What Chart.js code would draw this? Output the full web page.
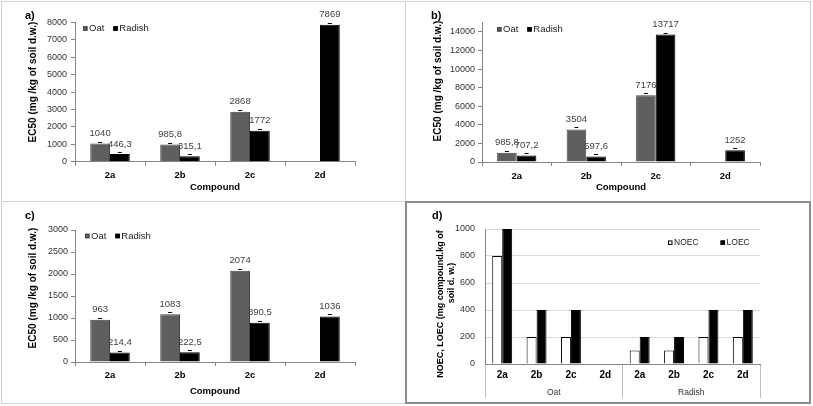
<!DOCTYPE html>
<html><head><meta charset="utf-8">
<script src="https://cdn.jsdelivr.net/npm/chart.js@4.4.1/dist/chart.umd.min.js"></script>
<style>
html,body{margin:0;padding:0;background:#fff;}
#wrap{position:relative;width:813px;height:406px;overflow:hidden;font-family:"Liberation Sans",Arial,sans-serif;background:#fff;}
.frame{position:absolute;box-sizing:border-box;border:1px solid #d0d0d0;}
canvas{position:absolute;}
.tag{position:absolute;font:bold 11px/13px "Liberation Sans",Arial,sans-serif;color:#000;}
.yt{position:absolute;font-family:"Liberation Sans",Arial,sans-serif;font-weight:bold;color:#000;white-space:nowrap;text-align:center;transform:translate(-50%,-50%) rotate(-90deg);}
</style></head>
<body>
<div id="wrap">
  <div class="frame" style="left:1px;top:1px;width:405px;height:201px;"></div>
  <div class="frame" style="left:405px;top:1px;width:406px;height:201px;"></div>
  <div class="frame" style="left:1px;top:201px;width:405px;height:203px;"></div>
  <div class="frame" style="left:405px;top:201px;width:406px;height:203px;border:2px solid #8c8c8c;"></div>

  <canvas id="ca" width="404" height="200" style="left:1px;top:1px;"></canvas>
  <canvas id="cb" width="404" height="200" style="left:406px;top:1px;"></canvas>
  <canvas id="cc" width="404" height="201" style="left:1px;top:202px;"></canvas>
  <canvas id="cd" width="403" height="200" style="left:406px;top:202px;"></canvas>

  <div class="tag" style="left:25px;top:9px;">a)</div>
  <div class="tag" style="left:431px;top:9px;">b)</div>
  <div class="tag" style="left:25px;top:209px;">c)</div>
  <div class="tag" style="left:432px;top:209px;">d)</div>

  <div class="yt" style="left:32px;top:82px;font-size:10px;">EC50 (mg /kg of soil d.w.)</div>
  <div class="yt" style="left:437px;top:81px;font-size:10px;">EC50 (mg /kg of soil d.w.)</div>
  <div class="yt" style="left:32px;top:288px;font-size:10px;">EC50 (mg /kg of soil d.w.)</div>
  <div class="yt" style="left:440px;top:304px;font-size:9px;">NOEC, LOEC (mg compound.kg of</div>
  <div class="yt" style="left:451px;top:283px;font-size:9px;">soil d. w.)</div>
</div>
<script>
// ---------- data ----------
const compounds = ['2a', '2b', '2c', '2d'];
const seriesNames = ['Oat', 'Radish'];
const oatA = [1040, 985.8, 2868, null];
const radishA = [446.3, 315.1, 1772, 7869];
const oatB = [985.8, 3504, 7176, null];
const radishB = [707.2, 597.6, 13717, 1252];
const oatC = [963, 1083, 2074, null];
const radishC = [214.4, 222.5, 890.5, 1036];
const yTicksA = [0, 1000, 2000, 3000, 4000, 5000, 6000, 7000, 8000];
const yTicksB = [0, 2000, 4000, 6000, 8000, 10000, 12000, 14000];
const yTicksC = [0, 500, 1000, 1500, 2000, 2500, 3000];
const yMaxA = 8000, yMaxB = 15000, yMaxC = 3000;

const dCompounds = ['2a', '2b', '2c', '2d', '2a', '2b', '2c', '2d'];
const dGroups = ['Oat', 'Radish'];
const dSeriesNames = ['NOEC', 'LOEC'];
const noec = [800, 200, 200, null, 100, 100, 200, 200];
const loec = [1000, 400, 400, null, 200, 200, 400, 400];
const yTicksD = [0, 200, 400, 600, 800, 1000];
const yMaxD = 1000;

// ---------- helpers ----------
const FONT = '"Liberation Sans", Arial, sans-serif';
const AXIS = '#868686';

const valueLabels = {
  id: 'valueLabels',
  afterDatasetsDraw(chart, args, opts) {
    if (!opts.show) return;
    const ctx = chart.ctx;
    ctx.save();
    ctx.font = '9.5px ' + FONT;
    ctx.textAlign = 'center';
    ctx.textBaseline = 'middle';
    chart.data.datasets.forEach((ds, i) => {
      chart.getDatasetMeta(i).data.forEach((bar, j) => {
        const v = ds.data[j];
        if (v === null || v === undefined) return;
        const yTop = Math.round(bar.y);
        ctx.strokeStyle = '#000';
        ctx.lineWidth = 1;
        ctx.beginPath();
        ctx.moveTo(bar.x - 2, yTop - 1.5);
        ctx.lineTo(bar.x + 2, yTop - 1.5);
        ctx.stroke();
        ctx.fillStyle = '#404040';
        ctx.fillText(String(v).replace('.', ','), bar.x, bar.y - 10);
      });
    });
    ctx.restore();
  }
};

const boxLegend = {
  id: 'boxLegend',
  afterDraw(chart, args, opts) {
    const ctx = chart.ctx, a = chart.chartArea;
    ctx.save();
    ctx.font = opts.font;
    ctx.textBaseline = 'middle';
    ctx.textAlign = 'left';
    let x = a.left + opts.dx;
    const y = a.top + opts.dy;
    const s = opts.box;
    chart.data.datasets.forEach(ds => {
      ctx.fillStyle = ds.backgroundColor;
      ctx.fillRect(x, y - s / 2, s, s);
      if (ds.borderWidth) {
        ctx.strokeStyle = ds.borderColor;
        ctx.lineWidth = 1;
        ctx.strokeRect(x + 0.5, y - s / 2 + 0.5, s - 1, s - 1);
      }
      ctx.fillStyle = '#222';
      ctx.fillText(ds.label, x + s + 1.5, y);
      x += s + 1.5 + ctx.measureText(ds.label).width + opts.gap;
    });
    ctx.restore();
  }
};

function fixedTicks(values) {
  return function (s) { s.ticks = values.map(v => ({ value: v })); };
}

function ecChart(id, oat, radish, yMax, yTicks, lay) {
  return new Chart(document.getElementById(id), {
    type: 'bar',
    data: {
      labels: compounds,
      datasets: [
        { label: seriesNames[0], data: oat, backgroundColor: '#5f5f5f', borderColor: '#444', borderWidth: 1 },
        { label: seriesNames[1], data: radish, backgroundColor: '#000', borderColor: '#000', borderWidth: 1 }
      ]
    },
    options: {
      responsive: false, animation: false, devicePixelRatio: 1,
      layout: { padding: { left: lay.L, right: lay.R, top: lay.T, bottom: 0 } },
      datasets: { bar: { categoryPercentage: 0.565, barPercentage: 1 } },
      plugins: {
        legend: { display: false }, tooltip: { enabled: false },
        valueLabels: { show: true },
        boxLegend: { dx: lay.lx, dy: lay.ly, box: 4.5, gap: 9, font: '9.5px ' + FONT }
      },
      scales: {
        x: {
          grid: { drawOnChartArea: false, drawTicks: true, tickLength: 4, color: AXIS },
          border: { color: AXIS },
          ticks: { font: { family: FONT, size: 9.5, weight: 'bold' }, color: '#000', padding: lay.xp },
          title: { display: true, text: 'Compound', color: '#000',
                   font: { family: FONT, size: 9.5, weight: 'bold' }, padding: { top: 0, bottom: lay.tb } },
          afterFit(s) { s.height = lay.Hx; }
        },
        y: {
          min: 0, max: yMax,
          grid: { drawOnChartArea: false, drawTicks: true, tickLength: 4, color: AXIS },
          border: { color: AXIS },
          afterBuildTicks: fixedTicks(yTicks),
          ticks: { font: { family: FONT, size: 9 }, color: '#333', padding: lay.yp,
                   callback: (v) => String(v) },
          afterFit(s) { s.width = lay.Wy; }
        }
      }
    },
    plugins: [valueLabels, boxLegend]
  });
}

ecChart('ca', oatA, radishA, yMaxA, yTicksA,
  { L: 4, Wy: 70, R: 50, T: 21.5, Hx: 39.3, xp: 3.6, tb: 8.3, yp: 4, lx: 8, ly: 6 });
ecChart('cb', oatB, radishB, yMaxB, yTicksB,
  { L: 4, Wy: 72, R: 50, T: 21.7, Hx: 39, xp: 4.3, tb: 8.0, yp: 3, lx: 15, ly: 6.6 });
ecChart('cc', oatC, radishC, yMaxC, yTicksC,
  { L: 4, Wy: 70, R: 50, T: 28, Hx: 41, xp: 3.3, tb: 6.3, yp: 3, lx: 10, ly: 6 });

new Chart(document.getElementById('cd'), {
  type: 'bar',
  data: {
    labels: dCompounds,
    datasets: [
      { label: dSeriesNames[0], data: noec, backgroundColor: '#fff', borderColor: '#000', borderWidth: 1, xAxisID: 'x' },
      { label: dSeriesNames[1], data: loec, backgroundColor: '#000', borderColor: '#000', borderWidth: 1, xAxisID: 'x' }
    ]
  },
  options: {
    responsive: false, animation: false, devicePixelRatio: 1,
    layout: { padding: { left: 4, right: 49, top: 27, bottom: 0 } },
    datasets: { bar: { categoryPercentage: 0.58, barPercentage: 1 } },
    plugins: {
      legend: { display: false }, tooltip: { enabled: false },
      boxLegend: { dx: 183, dy: 13.7, box: 4.5, gap: 22, font: '8.5px ' + FONT }
    },
    scales: {
      x: {
        grid: { drawOnChartArea: false, drawTicks: true, tickLength: 34,
                color: (c) => (c.type !== 'tick' || c.index % 4 === 0) ? '#bfbfbf' : 'rgba(0,0,0,0)' },
        border: { color: AXIS },
        ticks: { font: { family: FONT, size: 10, weight: 'bold' }, color: '#000', padding: -28.7, autoSkip: false, maxRotation: 0 },
        afterFit(s) { s.height = 18; }
      },
      x2: {
        type: 'category', labels: dGroups, position: 'bottom', offset: true,
        grid: { display: false, drawTicks: false }, border: { display: false },
        ticks: { font: { family: FONT, size: 8.5 }, color: '#333', padding: 6 },
        afterFit(s) { s.height = 20; }
      },
      y: {
        min: 0, max: yMaxD,
        grid: { drawTicks: false, color: '#d9d9d9' },
        border: { color: AXIS },
        afterBuildTicks: fixedTicks(yTicksD),
        ticks: { font: { family: FONT, size: 9 }, color: '#333', padding: 10, callback: (v) => String(v) },
        afterFit(s) { s.width = 75; }
      }
    }
  },
  plugins: [boxLegend]
});
</script>
</body></html>
